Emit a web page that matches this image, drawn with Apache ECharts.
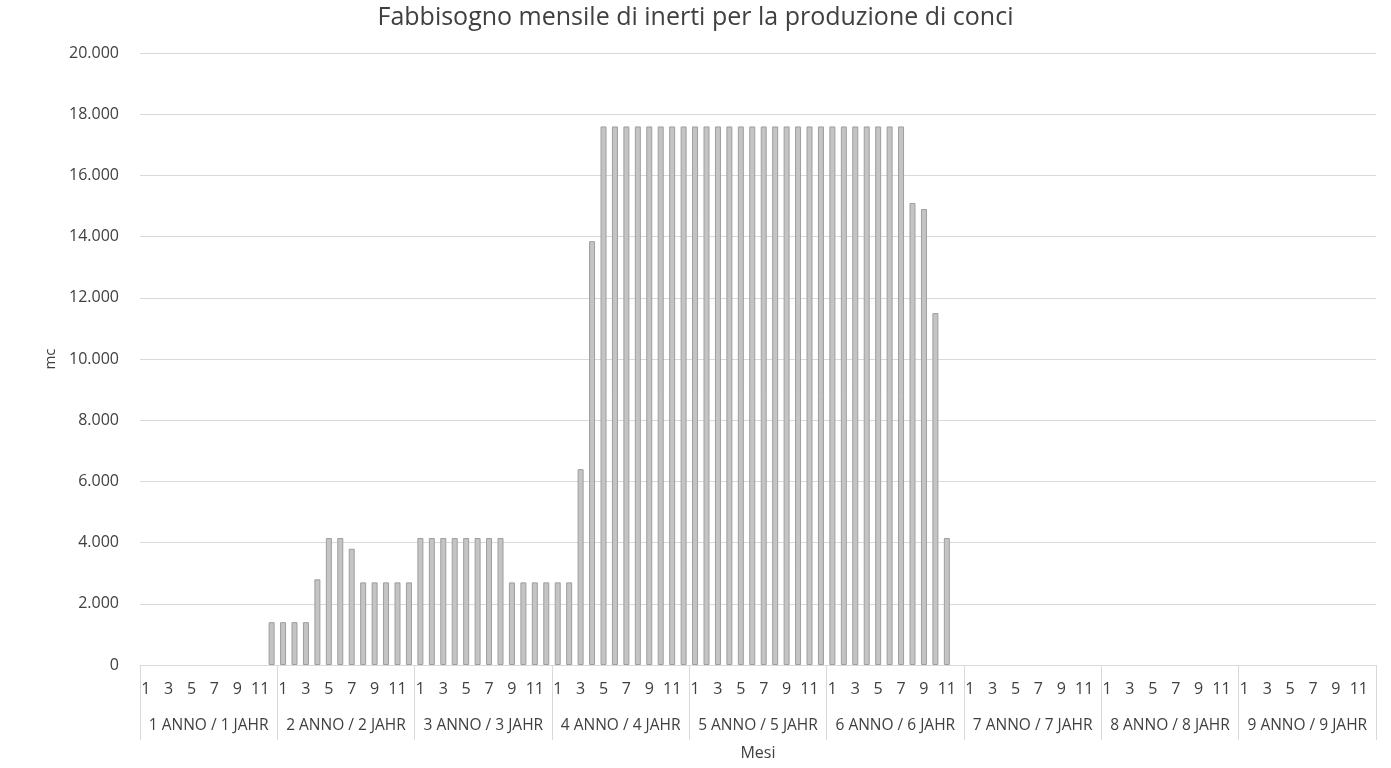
<!DOCTYPE html>
<html>
<head>
<meta charset="utf-8">
<style>
  html, body { margin: 0; padding: 0; background: #fff; }
  #chart { width: 1391px; height: 768px; }
</style>
<script src="https://cdn.jsdelivr.net/npm/echarts@6/dist/echarts.min.js"></script>
</head>
<body>
<div id="chart"></div>
<script>
// mesi 1..12 per 9 anni
var months = [];
for (var y = 0; y < 9; y++) {
  for (var m = 1; m <= 12; m++) months.push(String(m));
}
var years = ['1 ANNO / 1 JAHR', '2 ANNO / 2 JAHR', '3 ANNO / 3 JAHR', '4 ANNO / 4 JAHR',
  '5 ANNO / 5 JAHR', '6 ANNO / 6 JAHR', '7 ANNO / 7 JAHR', '8 ANNO / 8 JAHR', '9 ANNO / 9 JAHR'];

// fabbisogno in mc, un array per anno
var anno1 = [0, 0, 0, 0, 0, 0, 0, 0, 0, 0, 0, 1400];
var anno2 = [1400, 1400, 1400, 2800, 4150, 4150, 3800, 2700, 2700, 2700, 2700, 2700];
var anno3 = [4150, 4150, 4150, 4150, 4150, 4150, 4150, 4150, 2700, 2700, 2700, 2700];
var anno4 = [2700, 2700, 6400, 13850, 17600, 17600, 17600, 17600, 17600, 17600, 17600, 17600];
var anno5 = [17600, 17600, 17600, 17600, 17600, 17600, 17600, 17600, 17600, 17600, 17600, 17600];
var anno6 = [17600, 17600, 17600, 17600, 17600, 17600, 17600, 15100, 14900, 11500, 4150, 0];
var anno7 = [0, 0, 0, 0, 0, 0, 0, 0, 0, 0, 0, 0];
var anno8 = [0, 0, 0, 0, 0, 0, 0, 0, 0, 0, 0, 0];
var anno9 = [0, 0, 0, 0, 0, 0, 0, 0, 0, 0, 0, 0];
var values = [].concat(anno1, anno2, anno3, anno4, anno5, anno6, anno7, anno8, anno9);

function fmt(v) {
  return String(v).replace(/\B(?=(\d{3})+(?!\d))/g, '.');
}

(function () {
  var myChart = echarts.init(document.getElementById('chart'));
  var font = 'Open Sans';
  var txt = '#404040';
  var option = {
    animation: false,
    title: {
      text: 'Fabbisogno mensile di inerti per la produzione di conci',
      left: 'center',
      top: 0,
      textStyle: { fontFamily: font, fontSize: 25, fontWeight: 'normal', color: txt }
    },
    grid: { left: 140, right: 15, top: 53, bottom: 103 },
    xAxis: [
      {
        type: 'category',
        data: months,
        name: 'Mesi',
        nameLocation: 'middle',
        nameGap: 80,
        nameTextStyle: { fontFamily: font, fontSize: 16, color: txt },
        axisLine: { lineStyle: { color: '#d9d9d9' } },
        axisTick: {
          show: true,
          interval: function (i) { return i % 12 === 0; },
          length: 75,
          lineStyle: { color: '#d9d9d9' }
        },
        axisLabel: {
          interval: 1,
          margin: 16,
          fontFamily: font, fontSize: 16, color: txt
        }
      },
      {
        type: 'category',
        data: years,
        position: 'bottom',
        axisLine: { show: false },
        axisTick: { show: false },
        axisLabel: { interval: 0, margin: 53, fontFamily: font, fontSize: 15.5, color: txt }
      }
    ],
    yAxis: {
      type: 'value',
      min: 0,
      max: 20000,
      interval: 2000,
      name: 'mc',
      nameLocation: 'middle',
      nameGap: 78,
      nameTextStyle: { fontFamily: font, fontSize: 15, color: txt },
      axisLine: { show: false },
      axisTick: { show: false },
      axisLabel: { margin: 21, fontFamily: font, fontSize: 16, color: txt, formatter: fmt },
      splitLine: { lineStyle: { color: '#d9d9d9' } }
    },
    series: [
      {
        name: 'mc',
        type: 'bar',
        xAxisIndex: 0,
        barWidth: 6,
        // zero months are left empty so no stub is drawn
        data: values.map(function (v) { return v === 0 ? '-' : v; }),
        itemStyle: { color: '#c4c4c4', borderColor: '#9e9e9e', borderWidth: 1 }
      }
    ]
  };
  myChart.setOption(option);
  window.addEventListener('resize', function () {
    myChart.resize();
  });
})();
</script>
</body>
</html>
